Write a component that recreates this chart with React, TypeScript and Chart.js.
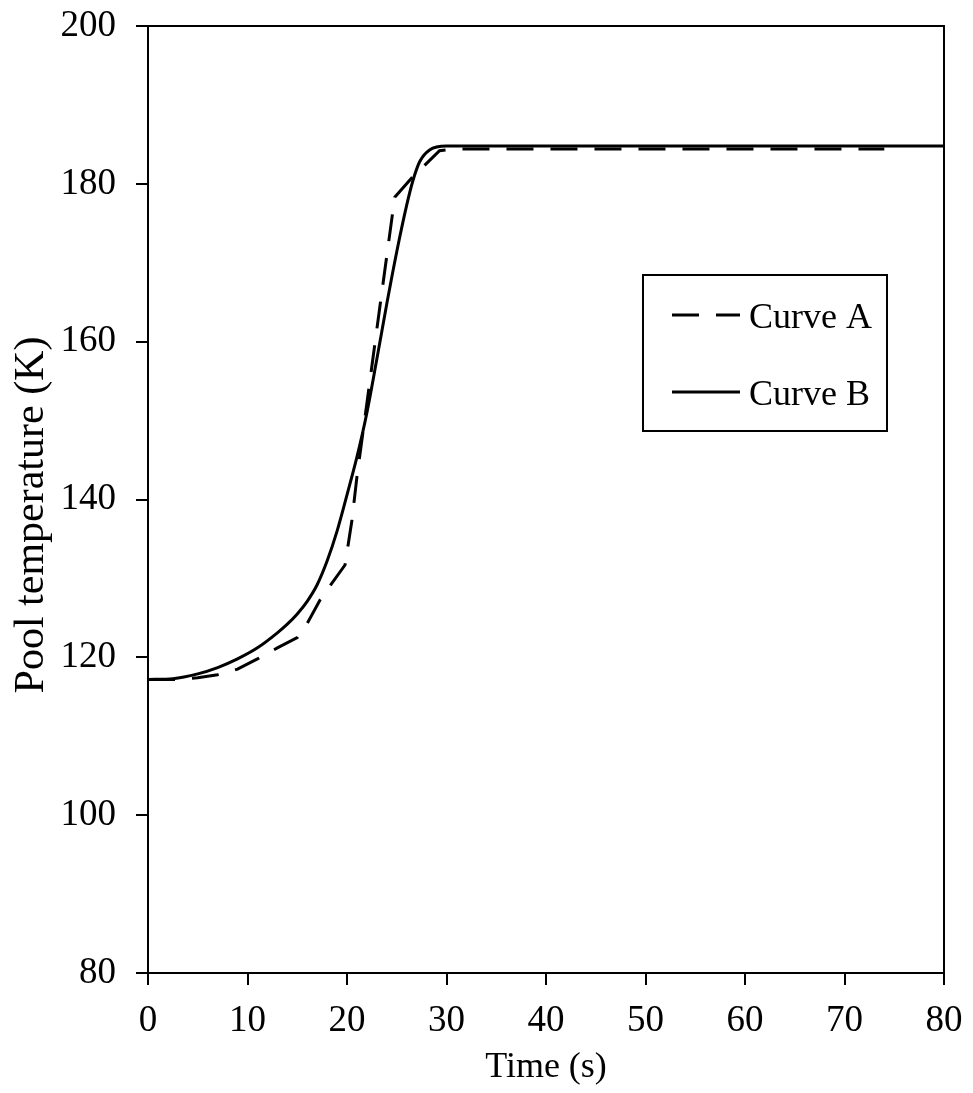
import React, { useEffect, useRef } from "react";
import { Chart, registerables } from "chart.js";
Chart.register(...registerables);

const curveATime = [0, 3, 5, 7, 9, 11, 13, 15, 16, 17.3, 19.8, 20.5, 21, 22, 23.3, 24.8, 26.6, 27.6, 29.3, 30.5, 74];
const curveATemp = [117.2, 117.2, 117.4, 117.8, 118.5, 119.8, 121.2, 122.5, 124.3, 127.3, 131.7, 137.4, 142.9, 152.2, 164.4, 178.3, 180.9, 182.1, 184.2, 184.4, 184.4];

const curveBTime = [0, 2.5, 5, 7, 9, 11, 13, 14, 15, 16, 17, 18, 19, 20, 21, 22, 23, 24, 25, 26, 26.6, 27.3, 28.3, 30, 80];
const curveBTemp = [117.2, 117.3, 117.9, 118.7, 119.8, 121.2, 123.1, 124.2, 125.5, 127.1, 129.2, 132.2, 136.0, 140.6, 145.4, 151.0, 157.8, 164.8, 171.4, 177.3, 180.3, 182.8, 184.3, 184.8, 184.8];

const xTicks = [0, 10, 20, 30, 40, 50, 60, 70, 80];
const yTicks = [80, 100, 120, 140, 160, 180, 200];
const seriesLabels = ["Curve A", "Curve B"];
const xTitle = "Time (s)";
const yTitle = "Pool temperature (K)";

const FONT = "'Liberation Serif', 'Times New Roman', serif";

const framePlugin = {
  id: "framePlugin",
  afterDraw(chart: any) {
    const ctx = chart.ctx;
    const { left, right, top, bottom } = chart.chartArea;
    ctx.save();
    ctx.strokeStyle = "#000";
    ctx.lineWidth = 2;
    ctx.strokeRect(left, top, right - left, bottom - top);

    // axis titles
    ctx.fillStyle = "#000";
    ctx.font = `36px ${FONT}`;
    ctx.textAlign = "center";
    ctx.textBaseline = "alphabetic";
    ctx.fillText(xTitle, (left + right) / 2, 1069);

    ctx.save();
    ctx.translate(24, 507);
    ctx.rotate(-Math.PI / 2);
    ctx.font = `42px ${FONT}`;
    ctx.textBaseline = "middle";
    ctx.fillText(yTitle, 0, 0);
    ctx.restore();

    // legend
    const bx = 635, by = 267, bw = 244, bh = 156;
    ctx.lineWidth = 2;
    ctx.strokeRect(bx, by, bw, bh);
    const rows = [307, 384];
    chart.data.datasets.forEach((ds: any, i: number) => {
      const y = rows[i];
      ctx.save();
      ctx.strokeStyle = ds.borderColor;
      ctx.lineWidth = ds.borderWidth;
      ctx.setLineDash(ds.borderDash || []);
      ctx.beginPath();
      ctx.moveTo(664, y);
      ctx.lineTo(732, y);
      ctx.stroke();
      ctx.restore();
      ctx.font = `36px ${FONT}`;
      ctx.textAlign = "left";
      ctx.textBaseline = "alphabetic";
      ctx.fillStyle = "#000";
      ctx.fillText(ds.label, 741, y + 13);
    });
    ctx.restore();
  },
};

export default function App() {
  const ref = useRef<HTMLCanvasElement | null>(null);
  useEffect(() => {
    if (!ref.current) return;
    const chart = new Chart(ref.current, {
      type: "line",
      data: {
        datasets: [
          {
            label: seriesLabels[0],
            data: curveATime.map((t, i) => ({ x: t, y: curveATemp[i] })),
            borderColor: "#000",
            borderWidth: 3,
            borderDash: [27, 17],
            pointRadius: 0,
            tension: 0,
            fill: false,
          },
          {
            label: seriesLabels[1],
            data: curveBTime.map((t, i) => ({ x: t, y: curveBTemp[i] })),
            borderColor: "#000",
            borderWidth: 3,
            pointRadius: 0,
            cubicInterpolationMode: "monotone",
            fill: false,
          },
        ],
      },
      options: {
        animation: false,
        responsive: true,
        maintainAspectRatio: false,
        layout: { padding: { top: 18, right: 21, left: 0, bottom: 0 } },
        plugins: {
          legend: { display: false },
          tooltip: { enabled: false },
        },
        scales: {
          x: {
            type: "linear",
            min: 0,
            max: 80,
            afterFit(scale: any) {
              scale.height = 112;
              scale.paddingLeft = 0;
              scale.paddingRight = 0;
            },
            afterBuildTicks(scale: any) {
              scale.ticks = xTicks.map((v) => ({ value: v }));
            },
            ticks: {
              color: "#000",
              font: { family: FONT, size: 37 },
              padding: 14,
              maxRotation: 0,
            },
            grid: { drawOnChartArea: false, drawTicks: true, tickLength: 12, color: "#000", lineWidth: 2 },
            border: { display: true, color: "#000", width: 2 },
            title: { display: false },
          },
          y: {
            type: "linear",
            min: 80,
            max: 200,
            afterFit(scale: any) {
              scale.width = 140;
              scale.paddingTop = 0;
              scale.paddingBottom = 0;
            },
            afterBuildTicks(scale: any) {
              scale.ticks = yTicks.map((v) => ({ value: v }));
            },
            ticks: {
              color: "#000",
              font: { family: FONT, size: 37 },
              padding: 20,
            },
            grid: { drawOnChartArea: false, drawTicks: true, tickLength: 12, color: "#000", lineWidth: 2 },
            border: { display: true, color: "#000", width: 2 },
            title: { display: false },
          },
        },
      },
      plugins: [framePlugin],
    } as any);
    return () => chart.destroy();
  }, []);
  return (
    <div style={{ width: 957, height: 1077, position: "relative" }}>
      <canvas ref={ref} />
    </div>
  );
}
